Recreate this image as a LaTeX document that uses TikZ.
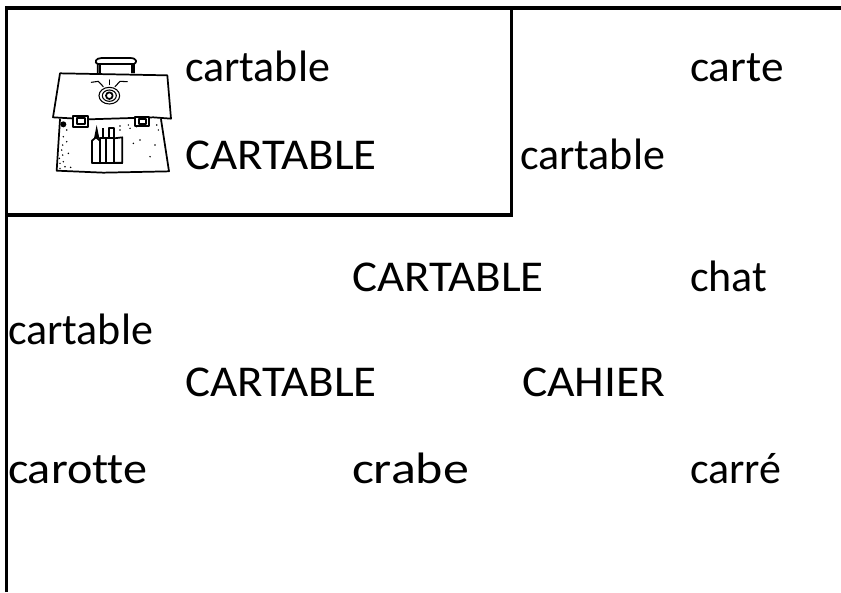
\documentclass[tikz,border=0pt]{standalone}
\usepackage{fontspec}
\setmainfont{Carlito}[Ligatures=NoCommon]
\begin{document}
\begin{tikzpicture}[x=0.75pt,y=-0.75pt,
  wordlabel/.style={anchor=base west,inner sep=0pt,outer sep=0pt,text=black,font=\fontsize{33}{40}\selectfont\addfontfeature{FakeStretch=#1}},
  wordlabel/.default=1.0,
  frameline/.style={line width=2.4pt,black},
  bagline/.style={line width=1.3pt,black,line join=round,line cap=round},
  bagthin/.style={line width=0.8pt,black,line cap=round}]
\useasboundingbox (0,0) rectangle (841,592);
\fill[white] (0,0) rectangle (841,592);
\draw[frameline] (6.5,592) -- (6.5,8) -- (841,8);
\draw[frameline] (511.5,8) -- (511.5,216);
\draw[frameline] (6.5,215) -- (513,215);
\node[wordlabel] (w1) at (185,81.5) {cartable};
\node[wordlabel=1.067] (w2) at (185,169) {CARTABLE};
\node[wordlabel=1.03] (w3) at (690,81.5) {carte};
\node[wordlabel] (w4) at (520,169.5) {cartable};
\node[wordlabel=1.067] (w5) at (352,291.5) {CARTABLE};
\node[wordlabel] (w6) at (690,291.5) {chat};
\node[wordlabel] (w7) at (8,344.5) {cartable};
\node[wordlabel=1.067] (w8) at (185,396.5) {CARTABLE};
\node[wordlabel=1.08] (w9) at (522,396.5) {CAHIER};
\node[wordlabel=1.095] (w10) at (8,483.5) {carotte};
\node[wordlabel=1.18] (w11) at (352,483.5) {crabe};
\node[wordlabel] (w12) at (690,483.5) {carré};
\begin{scope}[shift={(20,30)},x=0.25pt,y=-0.25pt]
 % handle
 \draw[bagline] (233,128) -- (233,102) .. controls (222,98) and (226,84) .. (245,84) -- (330,84) .. controls (352,84) and (352,98) .. (342,102) -- (342,128);
 \draw[bagline] (233,102) -- (342,102);
 \draw[bagline] (240,128) -- (240,102);
 \draw[bagline] (335,102) -- (335,128);
 % body
 \draw[bagline] (120,268) -- (110,422) -- (250,428) -- (447,424) -- (423,268);
 % flap
 \draw[bagline] (120,130) -- (442,136) -- (453,266) -- (400,262) -- (205,268) -- (99,262) -- cycle;
 % clasps
 \draw[bagline,fill=white] (160,258) rectangle (203,290);
 \draw[bagline] (172,265) rectangle (194,282);
 \draw[bagline,fill=white] (346,262) rectangle (388,289);
 \draw[bagline] (356,268) rectangle (378,282);
 % lock
 \draw[bagthin] (268,197) circle[x radius=31,y radius=25];
 \draw[bagthin] (268,197) circle[x radius=21,y radius=17];
 \draw[bagline] (268,197) circle[radius=10];
 \draw[bagthin] (214,157) -- (235,154) -- (250,170);
 \draw[bagthin] (322,155) -- (300,154) -- (285,170);
 \draw[bagthin] (268,150) -- (268,164);
 % pens
 \draw[bagline] (216,398) -- (216,332) -- (228,322) -- (240,332) -- (240,398);
 \draw[bagline] (240,398) -- (240,325) -- (258,325) -- (258,398) -- cycle;
 \draw[bagline] (258,398) -- (258,325) -- (282,325) -- (282,398);
 \draw[bagline] (282,398) -- (282,325) -- (307,322) -- (307,398) -- cycle;
 \draw[bagline] (216,398) -- (307,398);
 \fill[black] (222,325) -- (230,285) -- (238,325) -- cycle;
 \draw[line width=1.6pt] (248,325) -- (248,295);
 \draw[bagline] (268,322) -- (268,295) -- (282,295) -- (282,322);
 % speckle
 \fill[black] (130,283) circle[radius=9];
 \foreach \px/\py in {130/320,128/345,145/370,120/400,135/410,152/412,118/385,140/300,300/300,330/295,360/330,405/345,340/340,390/380,350/290,415/300,128/375,125/360,140/335,120/415,130/395,410/285,325/285,300/288}
   \fill[black] (\px,\py) circle[radius=2.5];
\end{scope}
\end{tikzpicture}
\end{document}
